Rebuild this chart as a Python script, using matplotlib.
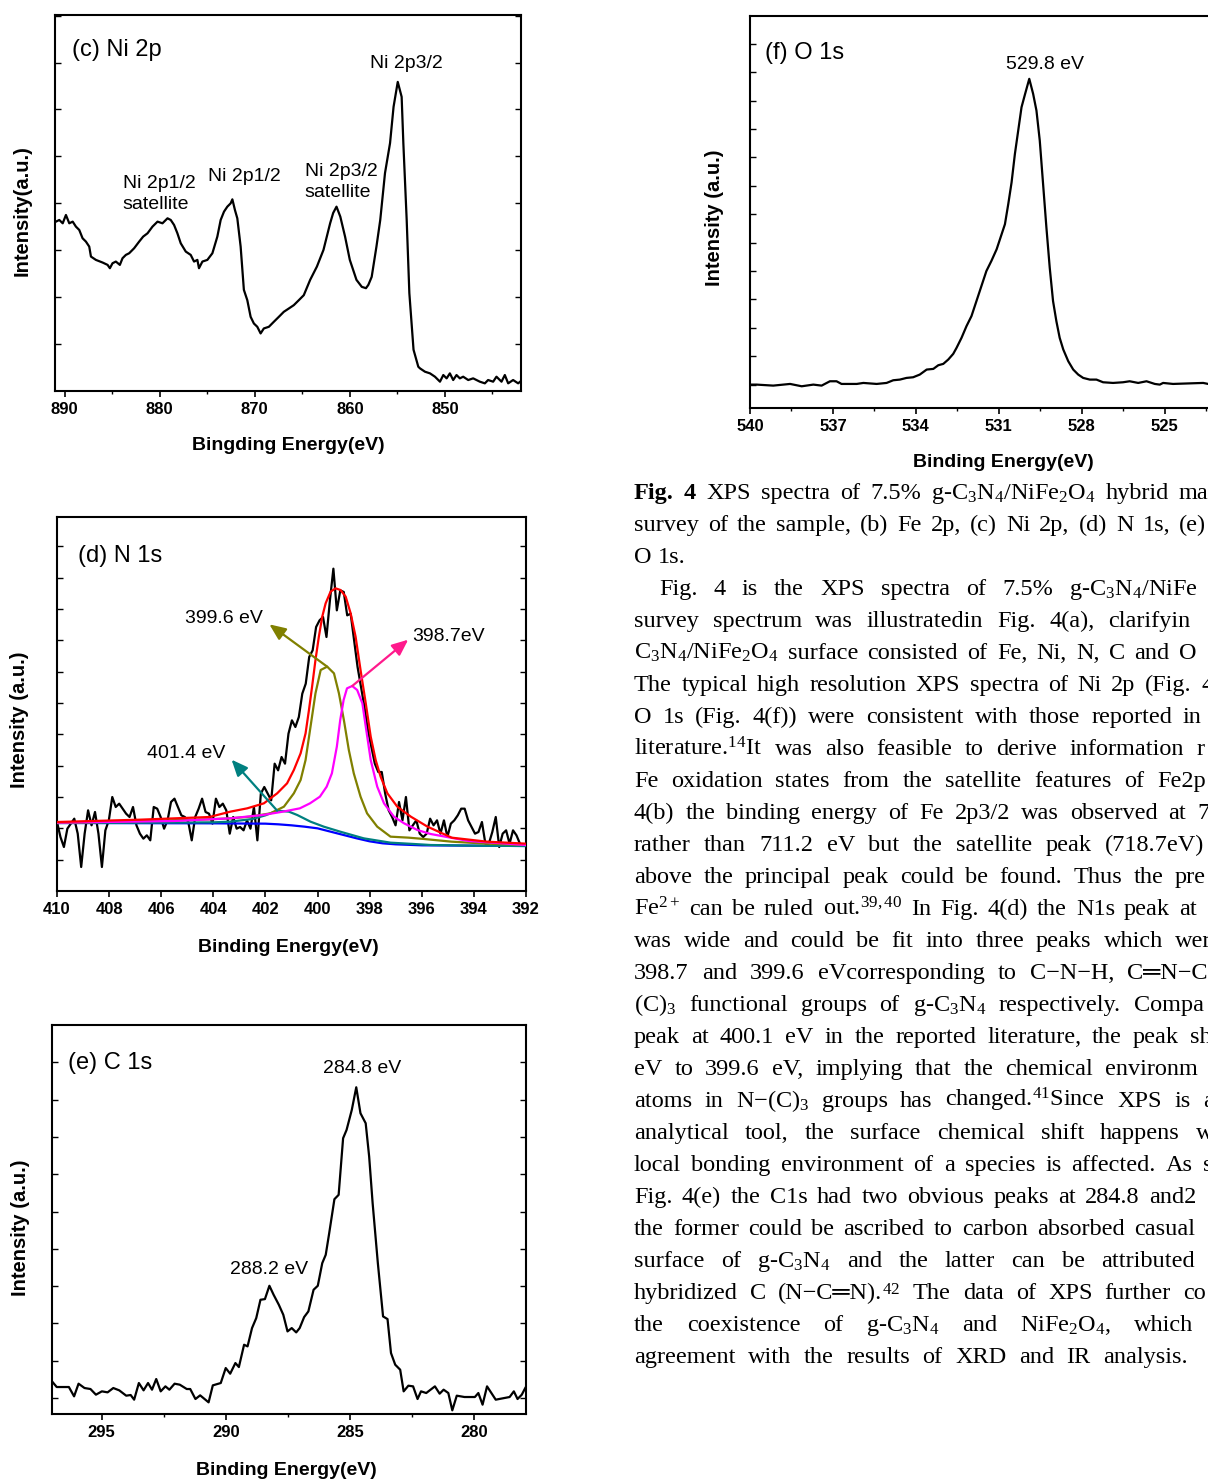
import numpy as np
import matplotlib
matplotlib.use("Agg")
import matplotlib.pyplot as plt
from matplotlib.ticker import MultipleLocator, FuncFormatter, FixedLocator

plt.rcParams['font.family'] = ['Liberation Sans', 'DejaVu Sans']
plt.rcParams['mathtext.fontset'] = 'custom'
plt.rcParams['mathtext.rm'] = 'Liberation Serif'
plt.rcParams['mathtext.it'] = 'Liberation Serif:italic'
plt.rcParams['mathtext.bf'] = 'Liberation Serif:bold'

# ---------------- data ----------------
# (c) Ni 2p
ni_energy = [890.9, 890.55, 890.19, 889.85, 889.5, 889.14, 888.8, 888.45, 888.1, 887.75,
             887.4, 887.22, 886.7, 885.99, 885.47, 885.23, 884.95, 884.6, 884.18, 883.9,
             883.55, 883.2, 882.68, 882.15, 881.73, 881.27, 880.75, 880.22, 879.7, 879.17,
             878.83, 878.48, 878.13, 877.78, 877.25, 876.73, 876.38, 876.03, 875.86, 875.5,
             874.98, 874.45, 873.93, 873.58, 873.23, 872.88, 872.53, 872.35, 872.08, 871.83,
             871.48, 871.14, 870.78, 870.43, 870.09, 869.73, 869.38, 869.04, 868.51, 867.99,
             867.46, 866.94, 866.41, 865.89, 865.36, 864.84, 864.17, 863.46, 862.77, 862.07,
             861.75, 861.4, 861.0, 860.5, 860.0, 859.3, 858.74, 858.3, 858.05, 857.7,
             857.2, 856.8, 856.3, 855.77, 855.4, 854.96, 854.55, 854.37, 854.02, 853.74,
             853.3, 852.8, 852.62, 852.10, 851.57, 851.05, 850.52, 850.17, 849.82, 849.48,
             849.13, 848.78, 848.43, 848.08, 847.55, 847.03, 846.33, 845.80, 845.46, 844.93,
             844.58, 844.05, 843.70, 843.35, 842.83, 842.30, 842.0]
ni_intensity = [509, 514, 504, 529, 504, 509, 494, 484, 459, 449,
                434, 404, 394, 386, 379, 369, 384, 389, 379, 399,
                409, 414, 429, 449, 464, 474, 494, 509, 504, 519,
                514, 499, 474, 444, 419, 409, 389, 394, 369, 389,
                394, 414, 464, 514, 539, 554, 564, 576, 544, 519,
                434, 304, 273, 223, 203, 193, 173, 188, 193, 208,
                223, 238, 248, 258, 273, 288, 334, 374, 424, 504,
                535, 554, 524, 464, 394, 334, 313, 309, 319, 343,
                434, 514, 655, 745, 854, 929, 884, 744, 514, 294,
                124, 73, 68, 58, 53, 43, 28, 48, 38, 53,
                33, 48, 38, 43, 33, 38, 28, 23, 33, 28,
                43, 28, 48, 23, 33, 23, 30]

# (d) N 1s raw spectrum (uniform acquisition step from 410 to 392.1 eV)
n_raw_intensity = [207, 162, 132, 187, 202, 217, 172, 72, 172, 242,
                   197, 237, 172, 72, 182, 212, 282, 252, 262, 247,
                   232, 222, 252, 197, 172, 157, 167, 152, 252, 247,
                   222, 187, 212, 267, 277, 252, 227, 222, 207, 152,
                   222, 247, 277, 237, 232, 202, 277, 252, 262, 242,
                   172, 222, 187, 192, 182, 212, 187, 252, 152, 292,
                   312, 292, 272, 382, 362, 402, 382, 472, 512, 492,
                   522, 592, 622, 702, 722, 792, 812, 822, 762, 872,
                   967, 842, 902, 897, 827, 832, 752, 672, 612, 552,
                   482, 432, 382, 357, 357, 292, 242, 222, 197, 267,
                   212, 282, 182, 197, 212, 172, 162, 172, 217, 197,
                   212, 172, 212, 162, 202, 212, 227, 247, 247, 212,
                   192, 172, 177, 207, 142, 142, 177, 222, 132, 172,
                   182, 142, 182, 167, 142, 137]
n_raw_energy = np.linspace(410.0, 392.1, len(n_raw_intensity))

n_bg_energy = [410, 404, 402, 401.5, 401, 400.5, 400, 399.5, 399, 398.5, 398, 397.5, 397, 396, 394, 392]
n_bg_intensity = [204, 203, 202, 200, 197, 193, 188, 178, 168, 158, 149, 143, 140, 137, 136, 135]

n_p4014_energy = [410, 406, 404, 403.35, 402.5, 402, 401.55, 401.1, 400.78, 400.27, 399.76, 399.13,
                  398.23, 397.2, 396.3, 395.66, 394, 392]
n_p4014_intensity = [204, 205, 206, 208, 216, 227, 241, 238, 228, 208, 193, 178,
                     158, 145, 141, 138, 136, 135]

n_p3996_energy = [410, 406.8, 404.2, 403.35, 402.58, 401.81, 401.29, 400.91, 400.65, 400.46, 400.27,
                  400.08, 399.88, 399.63, 399.37, 399.18, 398.99, 398.80, 398.61, 398.35, 398.10,
                  397.71, 397.20, 396.5, 395.91, 394.86, 393.5, 392]
n_p3996_intensity = [204, 210, 215, 218, 223, 233, 253, 293, 333, 393, 493,
                     593, 663, 673, 653, 593, 513, 423, 353, 283, 233,
                     193, 163, 160, 156, 148, 142, 138]

n_p3987_energy = [410, 405.5, 403.35, 402.1, 401.33, 400.68, 400.29, 399.91, 399.65, 399.45, 399.26,
                  399.13, 399.0, 398.87, 398.67, 398.48, 398.28, 398.15, 397.96, 397.71, 397.45,
                  397.07, 396.68, 396.17, 395.66, 394.2, 392]
n_p3987_intensity = [205, 210, 218, 228, 238, 248, 263, 283, 313, 353, 433,
                     513, 573, 608, 615, 603, 563, 493, 393, 313, 263,
                     223, 203, 183, 171, 150, 138]

n_env_energy = [410, 406.8, 404.15, 403.35, 402.70, 402.06, 401.55, 401.17, 400.91, 400.65, 400.46,
                400.33, 400.21, 400.08, 399.95, 399.82, 399.69, 399.50, 399.31, 399.12, 398.92,
                398.73, 398.54, 398.35, 398.15, 397.96, 397.77, 397.58, 397.32, 396.94, 396.42,
                395.78, 394.85, 393.5, 392]
n_env_intensity = [207, 214, 222, 238, 248, 263, 293, 323, 363, 413, 473,
                   543, 613, 693, 763, 823, 863, 898, 908, 903, 883,
                   833, 763, 663, 563, 463, 393, 343, 293, 253, 223,
                   193, 160, 148, 142]

# (e) C 1s
c_energy = [297.0, 296.81, 296.32, 296.11, 295.93, 295.69, 295.45, 295.23, 294.99, 294.76,
            294.53, 294.29, 294.01, 293.83, 293.69, 293.50, 293.31, 293.13, 292.97, 292.80,
            292.62, 292.43, 292.27, 292.06, 291.85, 291.57, 291.43, 291.22, 291.03, 290.69,
            290.52, 290.20, 290.00, 289.82, 289.61, 289.47, 289.26, 289.12, 288.94, 288.77,
            288.60, 288.42, 288.24, 288.07, 287.86, 287.68, 287.51, 287.34, 287.16, 287.02,
            286.84, 286.67, 286.46, 286.29, 286.11, 285.97, 285.83, 285.62, 285.45, 285.27,
            285.13, 284.92, 284.74, 284.57, 284.36, 284.22, 284.08, 283.87, 283.66, 283.48,
            283.34, 283.17, 282.97, 282.83, 282.64, 282.45, 282.27, 282.13, 281.92, 281.57,
            281.38, 281.22, 281.03, 280.87, 280.69, 280.38, 279.96, 279.82, 279.65, 279.47,
            279.12, 278.77, 278.56, 278.39, 278.24, 278.07, 277.93]
c_intensity = [98, 81, 81, 53, 91, 78, 75, 58, 68, 65,
               78, 71, 55, 57, 43, 93, 71, 93, 73, 105,
               68, 83, 73, 91, 88, 75, 75, 45, 56, 35,
               86, 93, 138, 121, 153, 141, 208, 203, 258, 288,
               343, 345, 385, 358, 328, 298, 248, 258, 245, 258,
               291, 308, 373, 385, 453, 478, 543, 645, 658, 828,
               853, 913, 981, 903, 873, 773, 633, 453, 293, 285,
               183, 148, 133, 68, 85, 83, 45, 68, 63, 83,
               61, 73, 63, 11, 55, 51, 51, 63, 28, 83,
               43, 48, 51, 68, 45, 58, 78]

# (f) O 1s
o_energy = [539.98, 539.76, 539.16, 538.55, 538.13, 537.71, 537.41, 537.11, 536.87, 536.69,
            536.39, 536.14, 535.90, 535.42, 535.06, 534.82, 534.58, 534.34, 534.10, 533.86,
            533.61, 533.37, 533.19, 533.01, 532.83, 532.65, 532.53, 532.35, 532.17, 531.99,
            531.81, 531.63, 531.45, 531.27, 531.08, 530.90, 530.78, 530.66, 530.54, 530.42,
            530.30, 530.18, 530.06, 529.90, 529.76, 529.64, 529.52, 529.40, 529.28, 529.16,
            529.04, 528.92, 528.80, 528.67, 528.49, 528.31, 528.13, 527.95, 527.71, 527.47,
            527.23, 526.87, 526.51, 526.27, 525.96, 525.66, 525.36, 525.18, 525.06, 524.70,
            524.34, 523.98, 523.61, 523.43, 523.0]
o_intensity = [70, 70, 67, 72, 65, 70, 67, 80, 80, 72,
               72, 72, 75, 72, 75, 83, 85, 90, 92, 100,
               115, 117, 128, 132, 145, 162, 180, 210, 245, 275,
               320, 365, 410, 440, 475, 520, 550, 610, 675, 760,
               830, 900, 937, 985, 940, 890, 800, 670, 540, 420,
               320, 260, 210, 175, 140, 115, 100, 90, 85, 85,
               77, 75, 77, 80, 75, 80, 72, 70, 75, 72,
               73, 74, 75, 72, 73]
o_ticks = [540, 537, 534, 531, 528, 525]

# paragraph text (visible part of each line; "**...**" = bold, "|" = glued pieces)
para_lines = [
    "**Fig. 4** XPS spectra of 7.5% g-C$_3$N$_4$/NiFe$_2$O$_4$ hybrid ma",
    "survey of the sample, (b) Fe 2p, (c) Ni 2p, (d) N 1s, (e)",
    "O 1s.",
    "Fig. 4 is the XPS spectra of 7.5% g-C$_3$N$_4$/NiFe",
    "survey spectrum was illustratedin Fig. 4(a), clarifyin",
    "C$_3$N$_4$/NiFe$_2$O$_4$ surface consisted of Fe, Ni, N, C and O",
    "The typical high resolution XPS spectra of Ni 2p (Fig. 4",
    "O 1s (Fig. 4(f)) were consistent with those reported in",
    "literature.$^{14}$It was also feasible to derive information r",
    "Fe oxidation states from the satellite features of Fe2p",
    "4(b) the binding energy of Fe 2p3/2 was observed at 7",
    "rather than 711.2 eV but the satellite peak (718.7eV)",
    "above the principal peak could be found. Thus the pre",
    "Fe$^{2+}$ can be ruled out.$^{39,40}$ In Fig. 4(d) the N1s peak at",
    "was wide and could be fit into three peaks which wer",
    "398.7 and 399.6 eVcorresponding to C\u2212N\u2212H, C\u2550N\u2212C",
    "(C)$_3$ functional groups of g-C$_3$N$_4$ respectively. Compa",
    "peak at 400.1 eV in the reported literature, the peak sh",
    "eV to 399.6 eV, implying that the chemical environm",
    "atoms in N\u2212(C)$_3$ groups has changed.$^{41}$Since XPS is a",
    "analytical tool, the surface chemical shift happens w",
    "local bonding environment of a species is affected. As s",
    "Fig. 4(e) the C1s had two obvious peaks at 284.8 and2",
    "the former could be ascribed to carbon absorbed casual",
    "surface of g-C$_3$N$_4$ and the latter can be attributed",
    "hybridized C (N\u2212C\u2550N).|$^{42}$ The data of XPS further co",
    "the coexistence of g-C$_3$N$_4$ and NiFe$_2$O$_4$, which",
    "agreement with the results of XRD and IR analysis.",
]
para_indent = [0, 0, 0, 1] + [0] * 24
para_last_word_x = [1179, 1179, None, 1069, 1108, 1179, 1201, 1183, 1197, 1157, 1197, 1105, 1175, 1179,
                    1175, 1127, 1134, 1190, 1105, 1203, 1196, 1203, 1149, 1134, 1101, 1183, 1134, 1103]

# ---------------- figure ----------------
W, H = 1208, 1482
fig = plt.figure(figsize=(W / 100, H / 100), dpi=100)
renderer = fig.canvas.get_renderer()


def add_ax(left, top, right, bottom):
    return fig.add_axes([left / W, 1 - bottom / H, (right - left) / W, (bottom - top) / H])


def style(ax, xlim, ylim, xmaj, xmin, yticks, xl, yl, xlab_pos, ylab_pos, xticks=None):
    ax.set_xlim(*xlim)
    ax.set_ylim(*ylim)
    if xticks is not None:
        ax.xaxis.set_major_locator(FixedLocator(xticks))
    else:
        ax.xaxis.set_major_locator(MultipleLocator(xmaj))
    if xmin:
        ax.xaxis.set_minor_locator(MultipleLocator(xmin))
    ax.xaxis.set_major_formatter(FuncFormatter(lambda v, p: f"{v:g}"))
    ax.set_yticks(yticks)
    ax.tick_params(axis='y', which='both', direction='in', left=True, right=True,
                   labelleft=False, length=4, width=1)
    ax.tick_params(axis='x', which='major', direction='out', length=4, width=1.2,
                   labelsize=12, pad=4)
    ax.tick_params(axis='x', which='minor', direction='out', length=2.5, width=1)
    for lab in ax.get_xticklabels():
        lab.set_fontweight('bold')
    for s in ax.spines.values():
        s.set_linewidth(1.5)
    ax.set_xlabel(xl, fontsize=14, fontweight='bold', va='center')
    ax.xaxis.set_label_coords(*xlab_pos)
    ax.set_ylabel(yl, fontsize=14.5, fontweight='bold', va='center')
    ax.yaxis.set_label_coords(*ylab_pos)


LW = 1.6
AFS = 14

# (c) Ni 2p
axc = add_ax(55, 15, 521, 391)
axc.plot(ni_energy, ni_intensity, color='black', lw=LW)
style(axc, (891, 842), (0, 1130), 10, 5, np.arange(141, 1130, 141),
      'Bingding Energy(eV)', 'Intensity(a.u.)', (0.5, -0.146), (-0.071, 0.479))
axc.text(889.17, 1025, '(c) Ni 2p', fontsize=17, va='center', ha='left')
axc.text(854.1, 985, 'Ni 2p3/2', fontsize=AFS, va='center', ha='center')
axc.text(883.86, 593, 'Ni 2p1/2\nsatellite', fontsize=AFS, va='center', ha='left', linespacing=1.3)
axc.text(871.05, 645, 'Ni 2p1/2', fontsize=AFS, va='center', ha='center')
axc.text(864.73, 628, 'Ni 2p3/2\nsatellite', fontsize=AFS, va='center', ha='left', linespacing=1.3)

# (d) N 1s
axd = add_ax(57, 517, 526, 891)
axd.plot(n_raw_energy, n_raw_intensity, color='black', lw=LW, zorder=2)
axd.plot(n_bg_energy, n_bg_intensity, color='#0000FF', lw=LW, zorder=3)
axd.plot(n_p4014_energy, n_p4014_intensity, color='#008080', lw=LW, zorder=3)
axd.plot(n_p3996_energy, n_p3996_intensity, color='#808000', lw=LW, zorder=3)
axd.plot(n_p3987_energy, n_p3987_intensity, color='#FF00FF', lw=LW, zorder=3)
axd.plot(n_env_energy, n_env_intensity, color='#FF0000', lw=LW, zorder=4)
style(axd, (410, 392), (0, 1122), 2, None, np.arange(94, 1122, 94),
      'Binding Energy(eV)', 'Intensity (a.u.)', (0.494, -0.152), (-0.079, 0.457))
axd.text(409.2, 1005, '(d) N 1s', fontsize=17, va='center', ha='left')
arrow_kw = dict(arrowstyle='-|>,head_length=0.7,head_width=0.3', lw=1.6, mutation_scale=14,
                shrinkA=0, shrinkB=0)
axd.annotate('', xy=(401.85, 800), xytext=(399.63, 673),
             arrowprops=dict(color='#808000', **arrow_kw), zorder=5)
axd.annotate('', xy=(396.52, 754), xytext=(398.67, 615),
             arrowprops=dict(color='#FF1A8C', **arrow_kw), zorder=5)
axd.annotate('', xy=(403.3, 394), xytext=(401.55, 241),
             arrowprops=dict(color='#008080', **arrow_kw), zorder=5)
axd.text(405.09, 817, '399.6 eV', fontsize=AFS, va='center', ha='left')
axd.text(396.35, 764, '398.7eV', fontsize=AFS, va='center', ha='left')
axd.text(406.55, 412, '401.4 eV', fontsize=AFS, va='center', ha='left')

# (e) C 1s
axe = add_ax(52, 1025, 526, 1414)
axe.plot(c_energy, c_intensity, color='black', lw=LW)
style(axe, (297, 277.9), (0, 1168), 5, 2.5, np.arange(48, 1168, 112),
      'Binding Energy(eV)', 'Intensity (a.u.)', (0.495, -0.144), (-0.066, 0.478))
axe.text(296.35, 1053, '(e) C 1s', fontsize=17, va='center', ha='left')
axe.text(284.5, 1038, '284.8 eV', fontsize=AFS, va='center', ha='center')
axe.text(288.24, 435, '288.2 eV', fontsize=AFS, va='center', ha='center')

# (f) O 1s (axes runs past the right edge of the page)
axf = add_ax(750, 16, 1303, 408)
axf.plot(o_energy, o_intensity, color='black', lw=LW)
style(axf, (540, 520), (0, 1173), 3, 1.5, np.arange(70, 1173, 85),
      'Binding Energy(eV)', 'Intensity (a.u.)', (0.459, -0.138), (-0.065, 0.485), xticks=o_ticks)
axf.text(539.46, 1062, '(f) O 1s', fontsize=17, va='center', ha='left')
axf.text(529.34, 1028, '529.8 eV', fontsize=AFS, va='center', ha='center')

# ---------------- paragraph ----------------
PFS = 17.5
SERIF = ['Liberation Serif', 'DejaVu Serif']


def measure(s, weight='normal'):
    t = fig.text(0, 0, s, fontsize=PFS, family=SERIF, weight=weight)
    w = t.get_window_extent(renderer).width
    t.remove()
    return w


space_w = measure('a a') - measure('aa')


def draw_line(line, y, x0, xlast):
    tokens = []
    if line.startswith('**'):
        bold, rest = line[2:].split('**', 1)
        for w in bold.split():
            tokens.append([(w, 'bold')])
        line = rest
    for w in line.split():
        tokens.append([(p, 'normal') for p in w.split('|')])
    objs, widths = [], []
    for tok in tokens:
        row, tw = [], 0
        for s, wt in tok:
            t = fig.text(0, 1 - y / H, s, fontsize=PFS, family=SERIF, weight=wt,
                         va='baseline', ha='left')
            w = t.get_window_extent(renderer).width
            row.append((t, w))
            tw += w
        objs.append(row)
        widths.append(tw)
    n = len(objs)
    if xlast is None or n < 2:
        gap = space_w
    else:
        gap = max((xlast - x0 - sum(widths[:-1])) / (n - 1), 0.5 * space_w)
    x = x0
    for row, tw in zip(objs, widths):
        xx = x
        for t, w in row:
            t.set_x(xx / W)
            xx += w
        x += tw + gap


for i, (line, ind, xl) in enumerate(zip(para_lines, para_indent, para_last_word_x)):
    y = 499 + 32 * i
    x0 = 659 if ind else 634
    draw_line(line, y, x0, xl)

fig.savefig('out.png', dpi=100)
